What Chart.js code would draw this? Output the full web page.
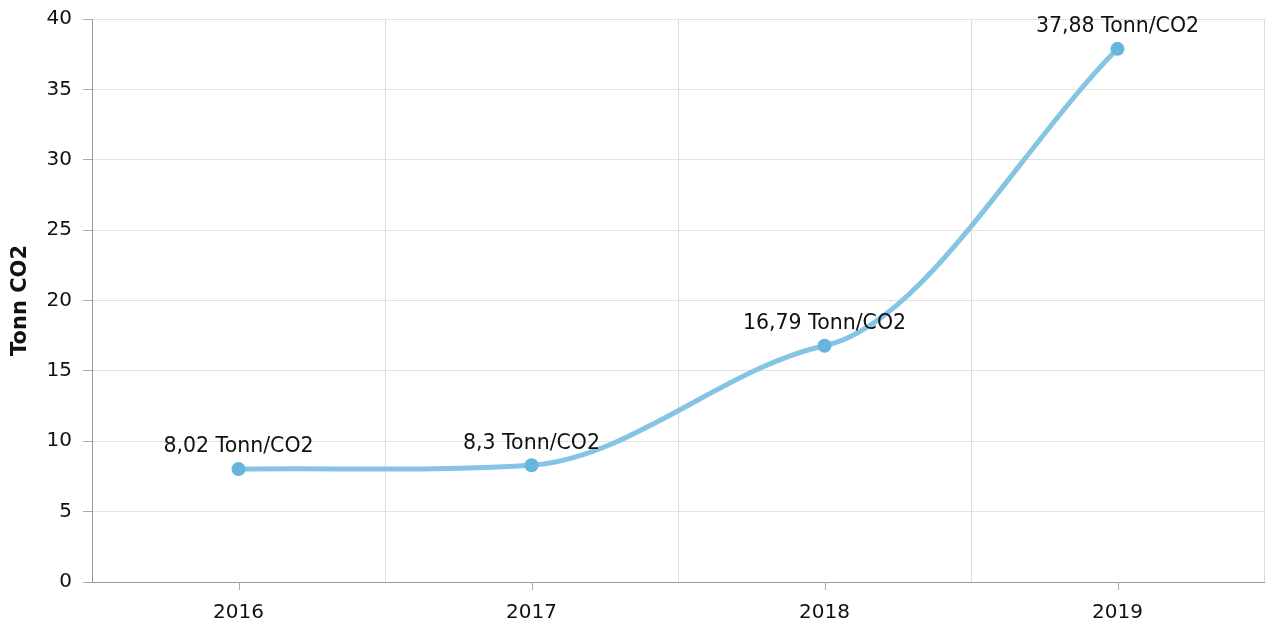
<!DOCTYPE html>
<html>
<head>
<meta charset="utf-8">
<script src="https://cdn.jsdelivr.net/npm/chart.js@4"></script>
<style>
  html, body { margin: 0; padding: 0; background: #fff; }
  #wrap { width: 1267px; height: 627px; }
</style>
</head>
<body>
<div id="wrap"><canvas id="co2Chart" width="1267" height="627"></canvas></div>
<script>
const years = ['2016', '2017', '2018', '2019'];
const tonnCO2 = [8.02, 8.3, 16.79, 37.88];
const pointLabels = ['8,02 Tonn/CO2', '8,3 Tonn/CO2', '16,79 Tonn/CO2', '37,88 Tonn/CO2'];
const yTicks = [0, 5, 10, 15, 20, 25, 30, 35, 40];

const ctx = document.getElementById('co2Chart');
const FONT = '"DejaVu Sans", Verdana, sans-serif';
Chart.defaults.font.family = FONT;

// flatter spline: control points one third of the way along, with gentle tangents
const smoothPlugin = {
    id: 'smoothPlugin',
    beforeDatasetDraw(chart, args) {
        const meta = args.meta;
        const line = meta.dataset;
        line.updateControlPoints(chart.chartArea, 'x');
        const pts = meta.data;
        const last = pts.length - 1;
        pts.forEach((p, i) => {
            const prev = pts[Math.max(i - 1, 0)];
            const next = pts[Math.min(i + 1, last)];
            let slope = (next.y - prev.y) / (next.x - prev.x);
            if (i > 0 && i < last) slope *= 0.3;
            const h = (i > 0 && i < last ? (next.x - prev.x) / 2 : (next.x - prev.x)) / 3;
            p.cp1x = p.x - h; p.cp1y = p.y - slope * h;
            p.cp2x = p.x + h; p.cp2y = p.y + slope * h;
        });
        line._path = undefined;
    }
};

// value labels above each point + small tick marks under category centres
const labelPlugin = {
    id: 'labelPlugin',
    afterDatasetsDraw(chart) {
        const c = chart.ctx;
        const meta = chart.getDatasetMeta(0);
        c.save();
        c.font = '20.5px ' + FONT;
        c.fillStyle = '#111';
        c.textAlign = 'center';
        c.textBaseline = 'middle';
        meta.data.forEach((pt, i) => {
            c.fillText(pointLabels[i], pt.x, pt.y - 22);
        });
        const x = chart.scales.x;
        c.strokeStyle = '#aaa';
        c.lineWidth = 1;
        years.forEach((y, i) => {
            const px = Math.round(x.getPixelForValue(i)) + 0.5;
            c.beginPath();
            c.moveTo(px, x.top);
            c.lineTo(px, x.top + 8);
            c.stroke();
        });
        c.restore();
    }
};

const co2Chart = new Chart(ctx, {
    type: 'line',
    data: {
        labels: years,
        datasets: [{
            data: tonnCO2,
            borderColor: '#85c4e4',
            borderWidth: 5,
            tension: 0.4,
            clip: false,
            pointRadius: 7,
            pointHoverRadius: 7,
            pointBackgroundColor: '#66b5dc',
            pointBorderColor: '#66b5dc',
            pointBorderWidth: 0,
            fill: false
        }]
    },
    options: {
        responsive: false,
        animation: false,
        layout: { autoPadding: false, padding: { top: 19, right: 3, left: 0, bottom: 0 } },
        plugins: {
            legend: { display: false },
            tooltip: { enabled: false }
        },
        scales: {
            x: {
                offset: true,
                grid: { offset: true, color: '#dcdcdc', drawTicks: false },
                border: { color: '#999', width: 1 },
                ticks: { color: '#111', font: { size: 20 }, padding: 19 },
                afterFit(scale) {
                    scale.height = 45;
                    scale.paddingLeft = 0;
                    scale.paddingRight = 0;
                }
            },
            y: {
                min: 0,
                max: 40,
                afterBuildTicks(scale) { scale.ticks = yTicks.map(v => ({ value: v })); },
                grid: { color: '#e2e2e2', tickColor: '#aaa', tickLength: 9 },
                border: { color: '#999', width: 1 },
                ticks: { color: '#111', font: { size: 20 }, padding: 11 },
                title: {
                    display: true,
                    text: 'Tonn CO2',
                    color: '#111',
                    font: { size: 21, weight: 'bold' },
                    padding: { top: 8, bottom: 0 }
                },
                afterFit(scale) {
                    scale.width = 92;
                    scale.paddingTop = 0;
                    scale.paddingBottom = 0;
                }
            }
        }
    },
    plugins: [smoothPlugin, labelPlugin]
});
</script>
</body>
</html>
